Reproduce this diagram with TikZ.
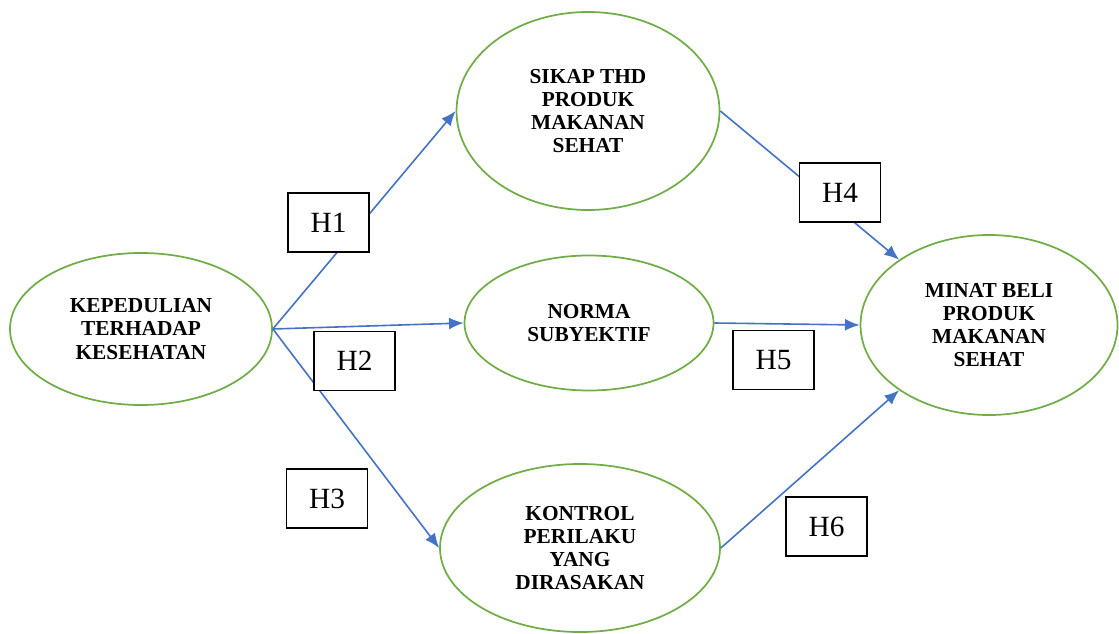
\documentclass[tikz,border=0pt]{standalone}
\usepackage{fontspec}
\setmainfont{Liberation Serif}
\usetikzlibrary{shapes.geometric,arrows.meta}
\definecolor{ovalgreen}{HTML}{70AD47}
\definecolor{arrowblue}{HTML}{4472C4}
\begin{document}
\begin{tikzpicture}[x=.75pt,y=-.75pt,line width=1.2pt,
>={Latex[length=11pt,width=9pt]},
var/.style={ellipse,draw=ovalgreen,line width=1.3pt,inner sep=0pt,align=center,
  font=\fontsize{16}{17.3}\selectfont\bfseries},
hyp/.style={rectangle,draw=black,fill=white,line width=1.3pt,inner sep=0pt,
  minimum width=60.75pt,minimum height=44.25pt,font=\fontsize{22}{24}\selectfont},
path/.style={->,draw=arrowblue,line width=1.2pt}]
\useasboundingbox (0,0) rectangle (1119,634);
\node[var,minimum width=196.5pt,minimum height=114pt] (kep) at (141,329) {KEPEDULIAN\\TERHADAP\\KESEHATAN};
\node[var,minimum width=197.25pt,minimum height=148.5pt] (sikap) at (588,111) {SIKAP THD\\PRODUK\\MAKANAN\\SEHAT};
\node[var,minimum width=186.75pt,minimum height=101.25pt] (norma) at (589,323) {NORMA\\SUBYEKTIF};
\node[var,minimum width=210pt,minimum height=126pt] (kontrol) at (580,548) {KONTROL\\PERILAKU\\YANG\\DIRASAKAN};
\node[var,minimum width=192.75pt,minimum height=135pt] (minat) at (989,325) {MINAT BELI\\PRODUK\\MAKANAN\\SEHAT};
\draw[path] (kep.east)--(sikap.west);
\draw[path] (kep.east)--(norma.west);
\draw[path] (kep.east)--(kontrol.west);
\draw[path] (sikap.east)--(minat.144);
\draw[path] (norma.east)--(minat.west);
\draw[path] (kontrol.east)--(minat.216);
\node[hyp] (h1) at (328.5,222.5) {H1};
\node[hyp] (h2) at (354.5,361) {H2};
\node[hyp] (h3) at (327,498.5) {H3};
\node[hyp] (h4) at (840,192.5) {H4};
\node[hyp] (h5) at (773.5,360) {H5};
\node[hyp] (h6) at (826.5,526.5) {H6};
\end{tikzpicture}
\end{document}
